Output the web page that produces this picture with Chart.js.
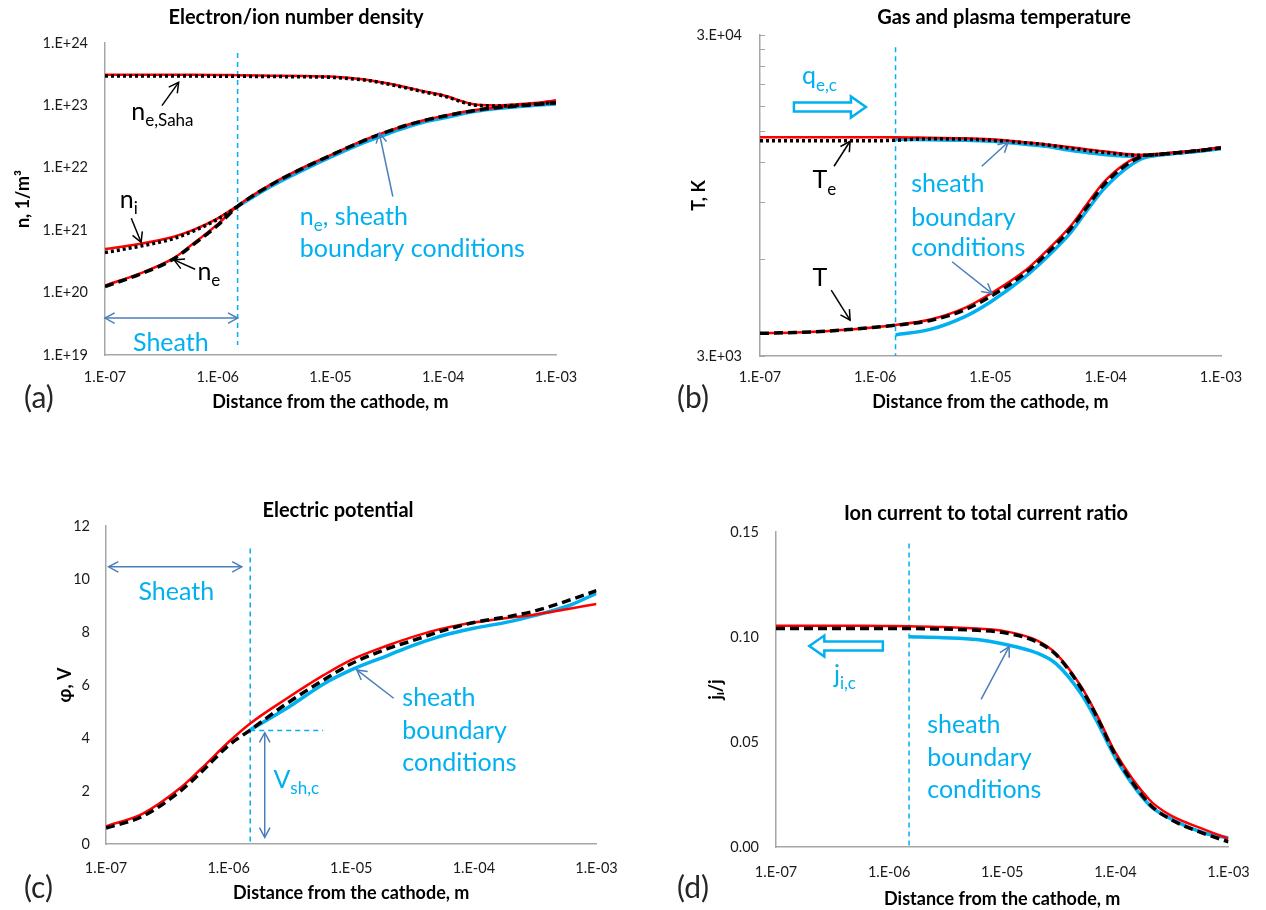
<!DOCTYPE html>
<html>
<head>
<meta charset="utf-8">
<title>Cathode sheath profiles</title>
<script src="https://cdn.jsdelivr.net/npm/chart.js@4.4.1/dist/chart.umd.min.js"></script>
<style>
  html, body { margin: 0; padding: 0; background: #fff; }
  #page { position: relative; width: 1266px; height: 910px; overflow: hidden; }
  .panel { position: absolute; }
</style>
</head>
<body>
<div id="page">
  <div class="panel" style="left:0;top:0;width:633px;height:440px"><canvas id="chartA"></canvas></div>
  <div class="panel" style="left:633px;top:0;width:633px;height:440px"><canvas id="chartB"></canvas></div>
  <div class="panel" style="left:0;top:440px;width:633px;height:470px"><canvas id="chartC"></canvas></div>
  <div class="panel" style="left:633px;top:440px;width:633px;height:470px"><canvas id="chartD"></canvas></div>
</div>
<script>
// distance from the cathode, m (shared by all four panels)
const xGrid = [1e-7, 2e-7, 4e-7, 6e-7, 1e-6, 1.5e-6, 3e-6, 6e-6, 1e-5, 2e-5, 3e-5, 5e-5, 7e-5, 1e-4, 2e-4, 3e-4, 6e-4, 1e-3];
const xTickValues = [1e-7, 1e-6, 1e-5, 1e-4, 1e-3];
const sheathX = 1.5e-6;

// (a) number densities, 1/m3
const nTickValues = [1e19, 1e20, 1e21, 1e22, 1e23, 1e24];
const nSahaRed   = [3.1e23, 3.1e23, 3.1e23, 3.1e23, 3.08e23, 3.05e23, 3.0e23, 2.95e23, 2.9e23, 2.6e23, 2.3e23, 1.9e23, 1.66e23, 1.45e23, 1.02e23, 1.0e23, 1.08e23, 1.2e23];
const nSahaBlack = [2.95e23, 2.95e23, 2.95e23, 2.95e23, 2.94e23, 2.93e23, 2.9e23, 2.87e23, 2.82e23, 2.55e23, 2.26e23, 1.86e23, 1.62e23, 1.42e23, 1.0e23, 0.98e23, 1.04e23, 1.12e23];
const neRed   = [1.3e20, 2.0e20, 3.5e20, 6.0e20, 1.25e21, 2.45e21, 5.5e21, 1.05e22, 1.6e22, 2.8e22, 3.7e22, 5.0e22, 5.9e22, 6.8e22, 8.5e22, 9.3e22, 1.05e23, 1.2e23];
const neBlack = [1.25e20, 1.95e20, 3.4e20, 5.8e20, 1.2e21, 2.4e21, 5.4e21, 1.03e22, 1.58e22, 2.75e22, 3.65e22, 4.95e22, 5.8e22, 6.7e22, 8.4e22, 9.2e22, 1.02e23, 1.1e23];
const neBlue  = [null, null, null, null, null, 2.4e21, 5.1e21, 9.6e21, 1.48e22, 2.55e22, 3.35e22, 4.6e22, 5.5e22, 6.3e22, 8.1e22, 8.9e22, 9.9e22, 1.05e23];
const niRed   = [5.0e20, 6.0e20, 7.8e20, 1.0e21, 1.55e21, 2.45e21, null, null, null, null, null, null, null, null, null, null, null, null];
const niBlack = [4.4e20, 5.5e20, 7.3e20, 9.6e20, 1.5e21, 2.4e21, null, null, null, null, null, null, null, null, null, null, null, null];

// (b) temperatures, K
const tTickValues = [3000, 6000, 9000, 12000, 15000, 18000, 21000, 24000, 27000, 30000];
const teRed   = [14400, 14400, 14400, 14400, 14400, 14400, 14350, 14300, 14200, 13900, 13700, 13400, 13200, 13000, 12700, 12800, 13100, 13400];
const teBlack = [14050, 14050, 14050, 14050, 14050, 14100, 14250, 14200, 14100, 13850, 13650, 13300, 13100, 12900, 12650, 12750, 13050, 13350];
const teBlue  = [null, null, null, null, null, 14200, 14150, 14100, 14000, 13700, 13500, 13100, 12900, 12700, 12550, 12700, 13000, 13300];
const tgRed   = [3530, 3550, 3590, 3630, 3690, 3750, 3900, 4240, 4690, 5540, 6330, 7650, 9000, 10600, 12600, 12800, 13100, 13400];
const tgBlack = [3530, 3550, 3590, 3630, 3690, 3740, 3870, 4180, 4600, 5430, 6200, 7500, 8800, 10400, 12500, 12750, 13050, 13350];
const tgBlue  = [null, null, null, null, null, 3490, 3630, 3980, 4420, 5300, 6040, 7300, 8600, 10100, 12300, 12700, 13000, 13300];

// (c) electric potential, V
const phiRed   = [0.67, 1.15, 2.1, 2.85, 3.85, 4.55, 5.5, 6.38, 6.95, 7.5, 7.78, 8.08, 8.23, 8.36, 8.55, 8.64, 8.88, 9.06];
const phiBlack = [0.6, 1.05, 1.98, 2.72, 3.72, 4.3, 5.31, 6.2, 6.8, 7.38, 7.64, 7.98, 8.18, 8.36, 8.6, 8.77, 9.2, 9.56];
const phiBlue  = [null, null, null, null, null, 4.31, 5.13, 6.05, 6.57, 7.12, 7.45, 7.8, 7.98, 8.14, 8.4, 8.6, 9.0, 9.46];

// (d) ion current to total current ratio
const jRed   = [0.1053, 0.1053, 0.1053, 0.1053, 0.1052, 0.1051, 0.1048, 0.104, 0.103, 0.0985, 0.092, 0.0763, 0.062, 0.045, 0.0225, 0.0154, 0.0085, 0.004];
const jBlack = [0.104, 0.104, 0.104, 0.104, 0.104, 0.104, 0.1038, 0.1032, 0.1022, 0.0978, 0.0915, 0.0755, 0.061, 0.0438, 0.0205, 0.0135, 0.0065, 0.0025];
const jBlue  = [null, null, null, null, null, 0.1001, 0.0997, 0.0988, 0.0968, 0.0925, 0.0872, 0.0728, 0.059, 0.0425, 0.02, 0.0138, 0.0068, 0.0043];

const FONT = 'Lato, "Open Sans", sans-serif';
const RED = '#ff0000';
const BLACK = '#000000';
const CYAN = '#00b0f0';
const STEEL = '#4a7ebb';
const AXIS = '#a6a6a6';

function sci(v) {
    const e = Math.floor(Math.log10(v) + 1e-9);
    const m = Math.round(v / Math.pow(10, e));
    return m + '.E' + (e < 0 ? '-' : '+') + String(Math.abs(e)).padStart(2, '0');
}

function series(ys, style) {
    return Object.assign({
        data: xGrid.map((x, i) => ({ x: x, y: ys[i] })).filter(p => p.y !== null),
        showLine: true,
        pointRadius: 0,
        fill: false,
        cubicInterpolationMode: 'monotone'
    }, style);
}

const redLine = { borderColor: RED, borderWidth: 2.5 };
const blackDash = { borderColor: BLACK, borderWidth: 3.5, borderDash: [9, 5] };
const blackDot = { borderColor: BLACK, borderWidth: 3.5, borderDash: [3, 3] };
const blueLine = { borderColor: CYAN, borderWidth: 3.5 };

function noteFont(kind) {
    return kind === 'sub' ? '17px ' + FONT : '25px ' + FONT;
}

function drawNote(ctx, x, y, n) {
    ctx.fillStyle = n.color;
    ctx.textBaseline = 'middle';
    ctx.textAlign = 'left';
    const widths = n.parts.map(p => { ctx.font = noteFont(p[1]); return ctx.measureText(p[0]).width; });
    let cx = n.align === 'center' ? x - widths.reduce((a, b) => a + b, 0) / 2 : x;
    n.parts.forEach((p, i) => {
        ctx.font = noteFont(p[1]);
        ctx.fillText(p[0], cx, p[1] === 'sub' ? y + 9 : y);
        cx += widths[i];
    });
}

function arrowHead(ctx, x1, y1, x2, y2, size) {
    const a = Math.atan2(y2 - y1, x2 - x1);
    ctx.beginPath();
    ctx.moveTo(x2 - size * Math.cos(a - 0.5), y2 - size * Math.sin(a - 0.5));
    ctx.lineTo(x2, y2);
    ctx.lineTo(x2 - size * Math.cos(a + 0.5), y2 - size * Math.sin(a + 0.5));
    ctx.stroke();
}

function blockArrow(ctx, x1, x2, y) {
    const dir = x2 > x1 ? 1 : -1;
    const head = 15, shaft = 4.5, wing = 10.5;
    const xb = x2 - dir * head;
    ctx.beginPath();
    ctx.moveTo(x1, y - shaft);
    ctx.lineTo(xb, y - shaft);
    ctx.lineTo(xb, y - wing);
    ctx.lineTo(x2, y);
    ctx.lineTo(xb, y + wing);
    ctx.lineTo(xb, y + shaft);
    ctx.lineTo(x1, y + shaft);
    ctx.closePath();
    ctx.fillStyle = '#ffffff';
    ctx.fill();
    ctx.strokeStyle = CYAN;
    ctx.lineWidth = 2.5;
    ctx.stroke();
}

function decorPlugin(d) {
    return {
        id: 'decor',
        beforeDatasetsDraw(chart) {
            const ctx = chart.ctx, xs = chart.scales.x, ys = chart.scales.y;
            ctx.save();
            ctx.strokeStyle = CYAN;
            ctx.lineWidth = 1.5;
            ctx.setLineDash([5, 4]);
            d.dashed.forEach(l => {
                ctx.beginPath();
                ctx.moveTo(xs.getPixelForValue(l.x1), ys.getPixelForValue(l.y1));
                ctx.lineTo(xs.getPixelForValue(l.x2), ys.getPixelForValue(l.y2));
                ctx.stroke();
            });
            ctx.restore();
        },
        afterDatasetsDraw(chart) {
            const ctx = chart.ctx, xs = chart.scales.x, ys = chart.scales.y;
            ctx.save();
            (d.blocks || []).forEach(b => {
                blockArrow(ctx, xs.getPixelForValue(b.x1), xs.getPixelForValue(b.x2), ys.getPixelForValue(b.y));
            });
            ctx.lineWidth = 1.5;
            d.arrows.forEach(a => {
                const x1 = xs.getPixelForValue(a.x1), y1 = ys.getPixelForValue(a.y1);
                const x2 = xs.getPixelForValue(a.x2), y2 = ys.getPixelForValue(a.y2);
                ctx.strokeStyle = a.color;
                ctx.beginPath();
                ctx.moveTo(x1, y1);
                ctx.lineTo(x2, y2);
                ctx.stroke();
                arrowHead(ctx, x1, y1, x2, y2, 11);
                if (a.both) arrowHead(ctx, x2, y2, x1, y1, 11);
            });
            d.notes.forEach(n => drawNote(ctx, xs.getPixelForValue(n.x), ys.getPixelForValue(n.y), n));
            ctx.restore();
        },
        afterDraw(chart) {
            const ctx = chart.ctx;
            ctx.save();
            ctx.fillStyle = '#000';
            ctx.textAlign = 'center';
            ctx.textBaseline = 'middle';
            ctx.font = 'bold 20px ' + FONT;
            ctx.fillText(d.title, d.titlePos[0], d.titlePos[1]);
            ctx.fillStyle = '#262626';
            ctx.textAlign = 'left';
            ctx.font = '30px ' + FONT;
            ctx.fillText(d.letter, d.letterPos[0], d.letterPos[1]);
            ctx.restore();
        }
    };
}

const tickFont = { family: FONT, size: 14.5 };

function xScale(lay) {
    return {
        type: 'logarithmic',
        min: 1e-7,
        max: 1e-3,
        afterBuildTicks: s => { s.ticks = xTickValues.map(v => ({ value: v })); },
        afterFit: s => { s.height = lay.xH; },
        ticks: {
            callback: v => sci(v),
            color: '#1a1a1a',
            font: tickFont,
            padding: lay.xTickPad,
            maxRotation: 0,
            autoSkip: false
        },
        grid: { display: false, drawTicks: false },
        border: { color: AXIS, width: 1.5 },
        title: {
            display: true,
            text: 'Distance from the cathode, m',
            color: '#000',
            font: { family: FONT, size: 18, weight: 'bold' },
            padding: { top: 0, bottom: lay.xTitlePad }
        }
    };
}

function yTitle(text, pad) {
    return {
        display: true,
        text: text,
        color: '#000',
        font: { family: FONT, size: 18, weight: 'bold' },
        padding: { top: pad, bottom: 0 }
    };
}

function makeChart(id, datasets, yScale, lay, decor) {
    yScale.afterFit = s => { s.width = lay.yW; };
    return new Chart(document.getElementById(id), {
        type: 'scatter',
        data: { datasets: datasets },
        options: {
            responsive: true,
            maintainAspectRatio: false,
            animation: false,
            events: [],
            layout: { padding: { left: 0, top: lay.top, right: lay.right, bottom: 0 } },
            plugins: { legend: { display: false }, tooltip: { enabled: false } },
            scales: { x: xScale(lay), y: yScale }
        },
        plugins: [decorPlugin(decor)]
    });
}

// ---- (a) Electron/ion number density
makeChart('chartA', [
    series(nSahaBlack, blackDot),
    series(niBlack, blackDot),
    series(neBlack, blackDash),
    series(nSahaRed, redLine),
    series(niRed, redLine),
    series(neRed, redLine),
    series(neBlue, blueLine)
], {
    type: 'logarithmic',
    min: 1e19,
    max: 1e24,
    afterBuildTicks: s => { s.ticks = nTickValues.map(v => ({ value: v })); },
    ticks: { callback: v => sci(v), color: '#1a1a1a', font: tickFont, padding: 17, autoSkip: false },
    grid: { display: false, drawTicks: false },
    border: { color: AXIS, width: 1.5 },
    title: yTitle('n, 1/m³', 12)
}, { top: 43, right: 77, yW: 105, xH: 85, xTickPad: 13.3, xTitlePad: 27 }, {
    title: 'Electron/ion number density', titlePos: [296, 18],
    letter: '(a)', letterPos: [24, 398],
    dashed: [{ x1: sheathX, y1: 6.9e23, x2: sheathX, y2: 1.45e19 }],
    notes: [
        { x: 1.71e-7, y: 7.9e22, parts: [['n'], ['e,Saha', 'sub']], color: BLACK },
        { x: 1.35e-7, y: 3.1e21, parts: [['n'], ['i', 'sub']], color: BLACK },
        { x: 6.6e-7, y: 2.17e20, parts: [['n'], ['e', 'sub']], color: BLACK },
        { x: 5.35e-6, y: 1.66e21, parts: [['n'], ['e', 'sub'], [', sheath']], color: CYAN },
        { x: 5.35e-6, y: 5.0e20, parts: [['boundary conditions']], color: CYAN },
        { x: 3.84e-7, y: 1.54e19, parts: [['Sheath']], color: CYAN, align: 'center' }
    ],
    arrows: [
        { x1: 3.2e-7, y1: 9.9e22, x2: 4.5e-7, y2: 2.34e23, color: BLACK },
        { x1: 1.71e-7, y1: 1.55e21, x2: 2.09e-7, y2: 6.4e20, color: BLACK },
        { x1: 6.3e-7, y1: 2.37e20, x2: 4.1e-7, y2: 3.34e20, color: BLACK },
        { x1: 3.57e-5, y1: 3.47e21, x2: 2.71e-5, y2: 3.6e22, color: STEEL },
        { x1: 1e-7, y1: 3.9e19, x2: sheathX, y2: 3.9e19, color: STEEL, both: true }
    ]
});

// ---- (b) Gas and plasma temperature
makeChart('chartB', [
    series(teBlack, blackDot),
    series(tgBlack, blackDash),
    series(teRed, redLine),
    series(tgRed, redLine),
    series(teBlue, blueLine),
    series(tgBlue, blueLine)
], {
    type: 'logarithmic',
    min: 3000,
    max: 30000,
    afterBuildTicks: s => { s.ticks = tTickValues.map(v => ({ value: v })); },
    ticks: {
        callback: v => (v === tTickValues[0] || v === tTickValues[tTickValues.length - 1]) ? sci(v) : '',
        color: '#1a1a1a', font: tickFont, padding: 23, autoSkip: false
    },
    grid: { display: true, drawOnChartArea: false, drawTicks: true, tickLength: -5, color: AXIS, lineWidth: 1 },
    border: { color: AXIS, width: 1.5 },
    title: yTitle('T, K', 55)
}, { top: 35, right: 45, yW: 127, xH: 84, xTickPad: 12.5, xTitlePad: 27 }, {
    title: 'Gas and plasma temperature', titlePos: [371, 18],
    letter: '(b)', letterPos: [44, 398],
    dashed: [{ x1: sheathX, y1: 27500, x2: sheathX, y2: 3000 }],
    blocks: [{ x1: 1.97e-7, x2: 8.3e-7, y: 17900 }],
    notes: [
        { x: 2.31e-7, y: 22300, parts: [['q'], ['e,c', 'sub']], color: CYAN },
        { x: 2.85e-7, y: 10600, parts: [['T'], ['e', 'sub']], color: BLACK },
        { x: 2.85e-7, y: 5240, parts: [['T']], color: BLACK },
        { x: 2.05e-6, y: 10300, parts: [['sheath']], color: CYAN },
        { x: 2.05e-6, y: 8100, parts: [['boundary']], color: CYAN },
        { x: 2.05e-6, y: 6500, parts: [['conditions']], color: CYAN }
    ],
    arrows: [
        { x1: 4.39e-7, y1: 11700, x2: 6.05e-7, y2: 14000, color: BLACK },
        { x1: 4.15e-7, y1: 4810, x2: 6.05e-7, y2: 3880, color: BLACK },
        { x1: 8.4e-6, y1: 11700, x2: 1.42e-5, y2: 13900, color: STEEL },
        { x1: 4.64e-6, y1: 5900, x2: 1.03e-5, y2: 4700, color: STEEL }
    ]
});

// ---- (c) Electric potential
makeChart('chartC', [
    series(phiBlack, blackDash),
    series(phiRed, redLine),
    series(phiBlue, blueLine)
], {
    type: 'linear',
    min: 0,
    max: 12,
    ticks: { stepSize: 2, color: '#1a1a1a', font: tickFont, padding: 16 },
    grid: { display: false, drawTicks: false },
    border: { color: AXIS, width: 1.5 },
    title: yTitle('φ, V', 54)
}, { top: 86, right: 36, yW: 106, xH: 66, xTickPad: 15.3, xTitlePad: 6 }, {
    title: 'Electric potential', titlePos: [338, 71],
    letter: '(c)', letterPos: [24, 448],
    dashed: [
        { x1: sheathX, y1: 11.15, x2: sheathX, y2: 0.05 },
        { x1: sheathX, y1: 4.28, x2: 5.9e-6, y2: 4.28 }
    ],
    notes: [
        { x: 3.74e-7, y: 9.52, parts: [['Sheath']], color: CYAN, align: 'center' },
        { x: 2.32e-6, y: 2.42, parts: [['V'], ['sh,c', 'sub']], color: CYAN },
        { x: 2.61e-5, y: 5.5, parts: [['sheath']], color: CYAN },
        { x: 2.61e-5, y: 4.25, parts: [['boundary']], color: CYAN },
        { x: 2.61e-5, y: 3.05, parts: [['conditions']], color: CYAN }
    ],
    arrows: [
        { x1: 1.05e-7, y1: 10.46, x2: 1.28e-6, y2: 10.46, color: STEEL, both: true },
        { x1: 1.97e-6, y1: 4.2, x2: 1.97e-6, y2: 0.25, color: STEEL, both: true },
        { x1: 2.22e-5, y1: 5.5, x2: 1.11e-5, y2: 6.57, color: STEEL }
    ]
});

// ---- (d) Ion current to total current ratio
makeChart('chartD', [
    series(jBlack, blackDash),
    series(jRed, redLine),
    series(jBlue, blueLine)
], {
    type: 'linear',
    min: 0,
    max: 0.15,
    ticks: { stepSize: 0.05, callback: v => v.toFixed(2), color: '#1a1a1a', font: tickFont, padding: 17 },
    grid: { display: false, drawTicks: false },
    border: { color: AXIS, width: 1.5 },
    title: yTitle('jᵢ/j', 72)
}, { top: 92, right: 29, yW: 143, xH: 63, xTickPad: 16.3, xTitlePad: 0 }, {
    title: 'Ion current to total current ratio', titlePos: [353, 74],
    letter: '(d)', letterPos: [44, 448],
    dashed: [{ x1: sheathX, y1: 0.1445, x2: sheathX, y2: 0 }],
    blocks: [{ x1: 8.8e-7, x2: 1.97e-7, y: 0.0957 }],
    notes: [
        { x: 3.25e-7, y: 0.0819, parts: [['j'], ['i,c', 'sub']], color: CYAN },
        { x: 2.17e-6, y: 0.058, parts: [['sheath']], color: CYAN },
        { x: 2.17e-6, y: 0.0423, parts: [['boundary']], color: CYAN },
        { x: 2.17e-6, y: 0.027, parts: [['conditions']], color: CYAN }
    ],
    arrows: [
        { x1: 6.5e-6, y1: 0.0703, x2: 1.15e-5, y2: 0.0954, color: STEEL }
    ]
});
</script>
</body>
</html>
